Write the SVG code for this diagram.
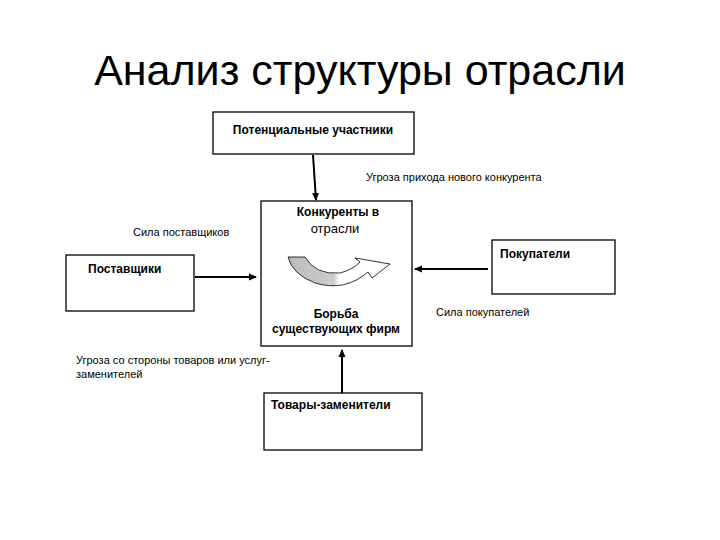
<svg xmlns="http://www.w3.org/2000/svg" width="720" height="540" viewBox="0 0 720 540">
<style>
.box{fill:#fff;stroke:#000;stroke-width:1.3}
.b{font-family:"Liberation Sans",Arial,sans-serif;font-weight:bold;font-size:12px}
.n{font-family:"Liberation Sans",Arial,sans-serif;font-size:11px}
.c{stroke:#000;stroke-width:2;fill:none;marker-end:url(#ah)}
</style>
<defs>
<marker id="ah" markerWidth="8" markerHeight="8" refX="7" refY="4" orient="auto" markerUnits="userSpaceOnUse"><path d="M0,0.5 L8,4 L0,7.5 Z" fill="#000"/></marker>
<linearGradient id="g" x1="0" x2="1" y1="0" y2="0"><stop offset="0" stop-color="#bbb"/><stop offset="0.45" stop-color="#ccc"/><stop offset="0.5" stop-color="#fff"/></linearGradient>
</defs>
<rect width="720" height="540" fill="#fff"/>
<text x="360" y="85" text-anchor="middle" font-family="Liberation Sans,Arial,sans-serif" font-size="43">Анализ структуры отрасли</text>
<g id="connectors">
<line class="c" x1="313" y1="155" x2="316" y2="200"/>
<line class="c" x1="195" y1="277" x2="256" y2="277"/>
<line class="c" x1="488" y1="269" x2="415" y2="269"/>
<line class="c" x1="342" y1="393" x2="342" y2="350"/>
</g>
<g id="potential"><rect class="box" x="213" y="112" width="201" height="42"/><text class="b" x="313" y="134" text-anchor="middle">Потенциальные участники</text></g>
<g id="competitors"><rect class="box" x="261" y="201" width="151" height="145"/>
<text class="b" x="338" y="216" text-anchor="middle">Конкуренты в</text>
<text x="335" y="233" text-anchor="middle" font-family="Liberation Sans,Arial,sans-serif" font-size="13">отрасли</text>
<path d="M288,257 L305,257 Q315,275 340,273 Q352,270 360,262 L355,258 L390,264 L372,278 L368,272 Q345,292 315,283 Q292,274 288,257 Z" fill="url(#g)" stroke="#000" stroke-width="0.8"/>
<text class="b" x="336" y="318" text-anchor="middle" font-size="11">Борьба</text>
<text class="b" x="336" y="333" text-anchor="middle" font-size="11">существующих фирм</text></g>
<g id="buyers"><rect class="box" x="492" y="240" width="123" height="54"/><text class="b" x="500" y="258">Покупатели</text></g>
<g id="suppliers"><rect class="box" x="66" y="255" width="128" height="56"/><text class="b" x="88" y="273">Поставщики</text></g>
<g id="substitutes"><rect class="box" x="264" y="393" width="158" height="57"/><text class="b" x="271" y="409">Товары-заменители</text></g>
<text class="n" x="366" y="181">Угроза прихода нового конкурента</text>
<text class="n" x="133" y="236">Сила поставщиков</text>
<text class="n" x="436" y="316">Сила покупателей</text>
<text class="n" x="76" y="364">Угроза со стороны товаров или услуг-</text>
<text class="n" x="76" y="378">заменителей</text>
</svg>
